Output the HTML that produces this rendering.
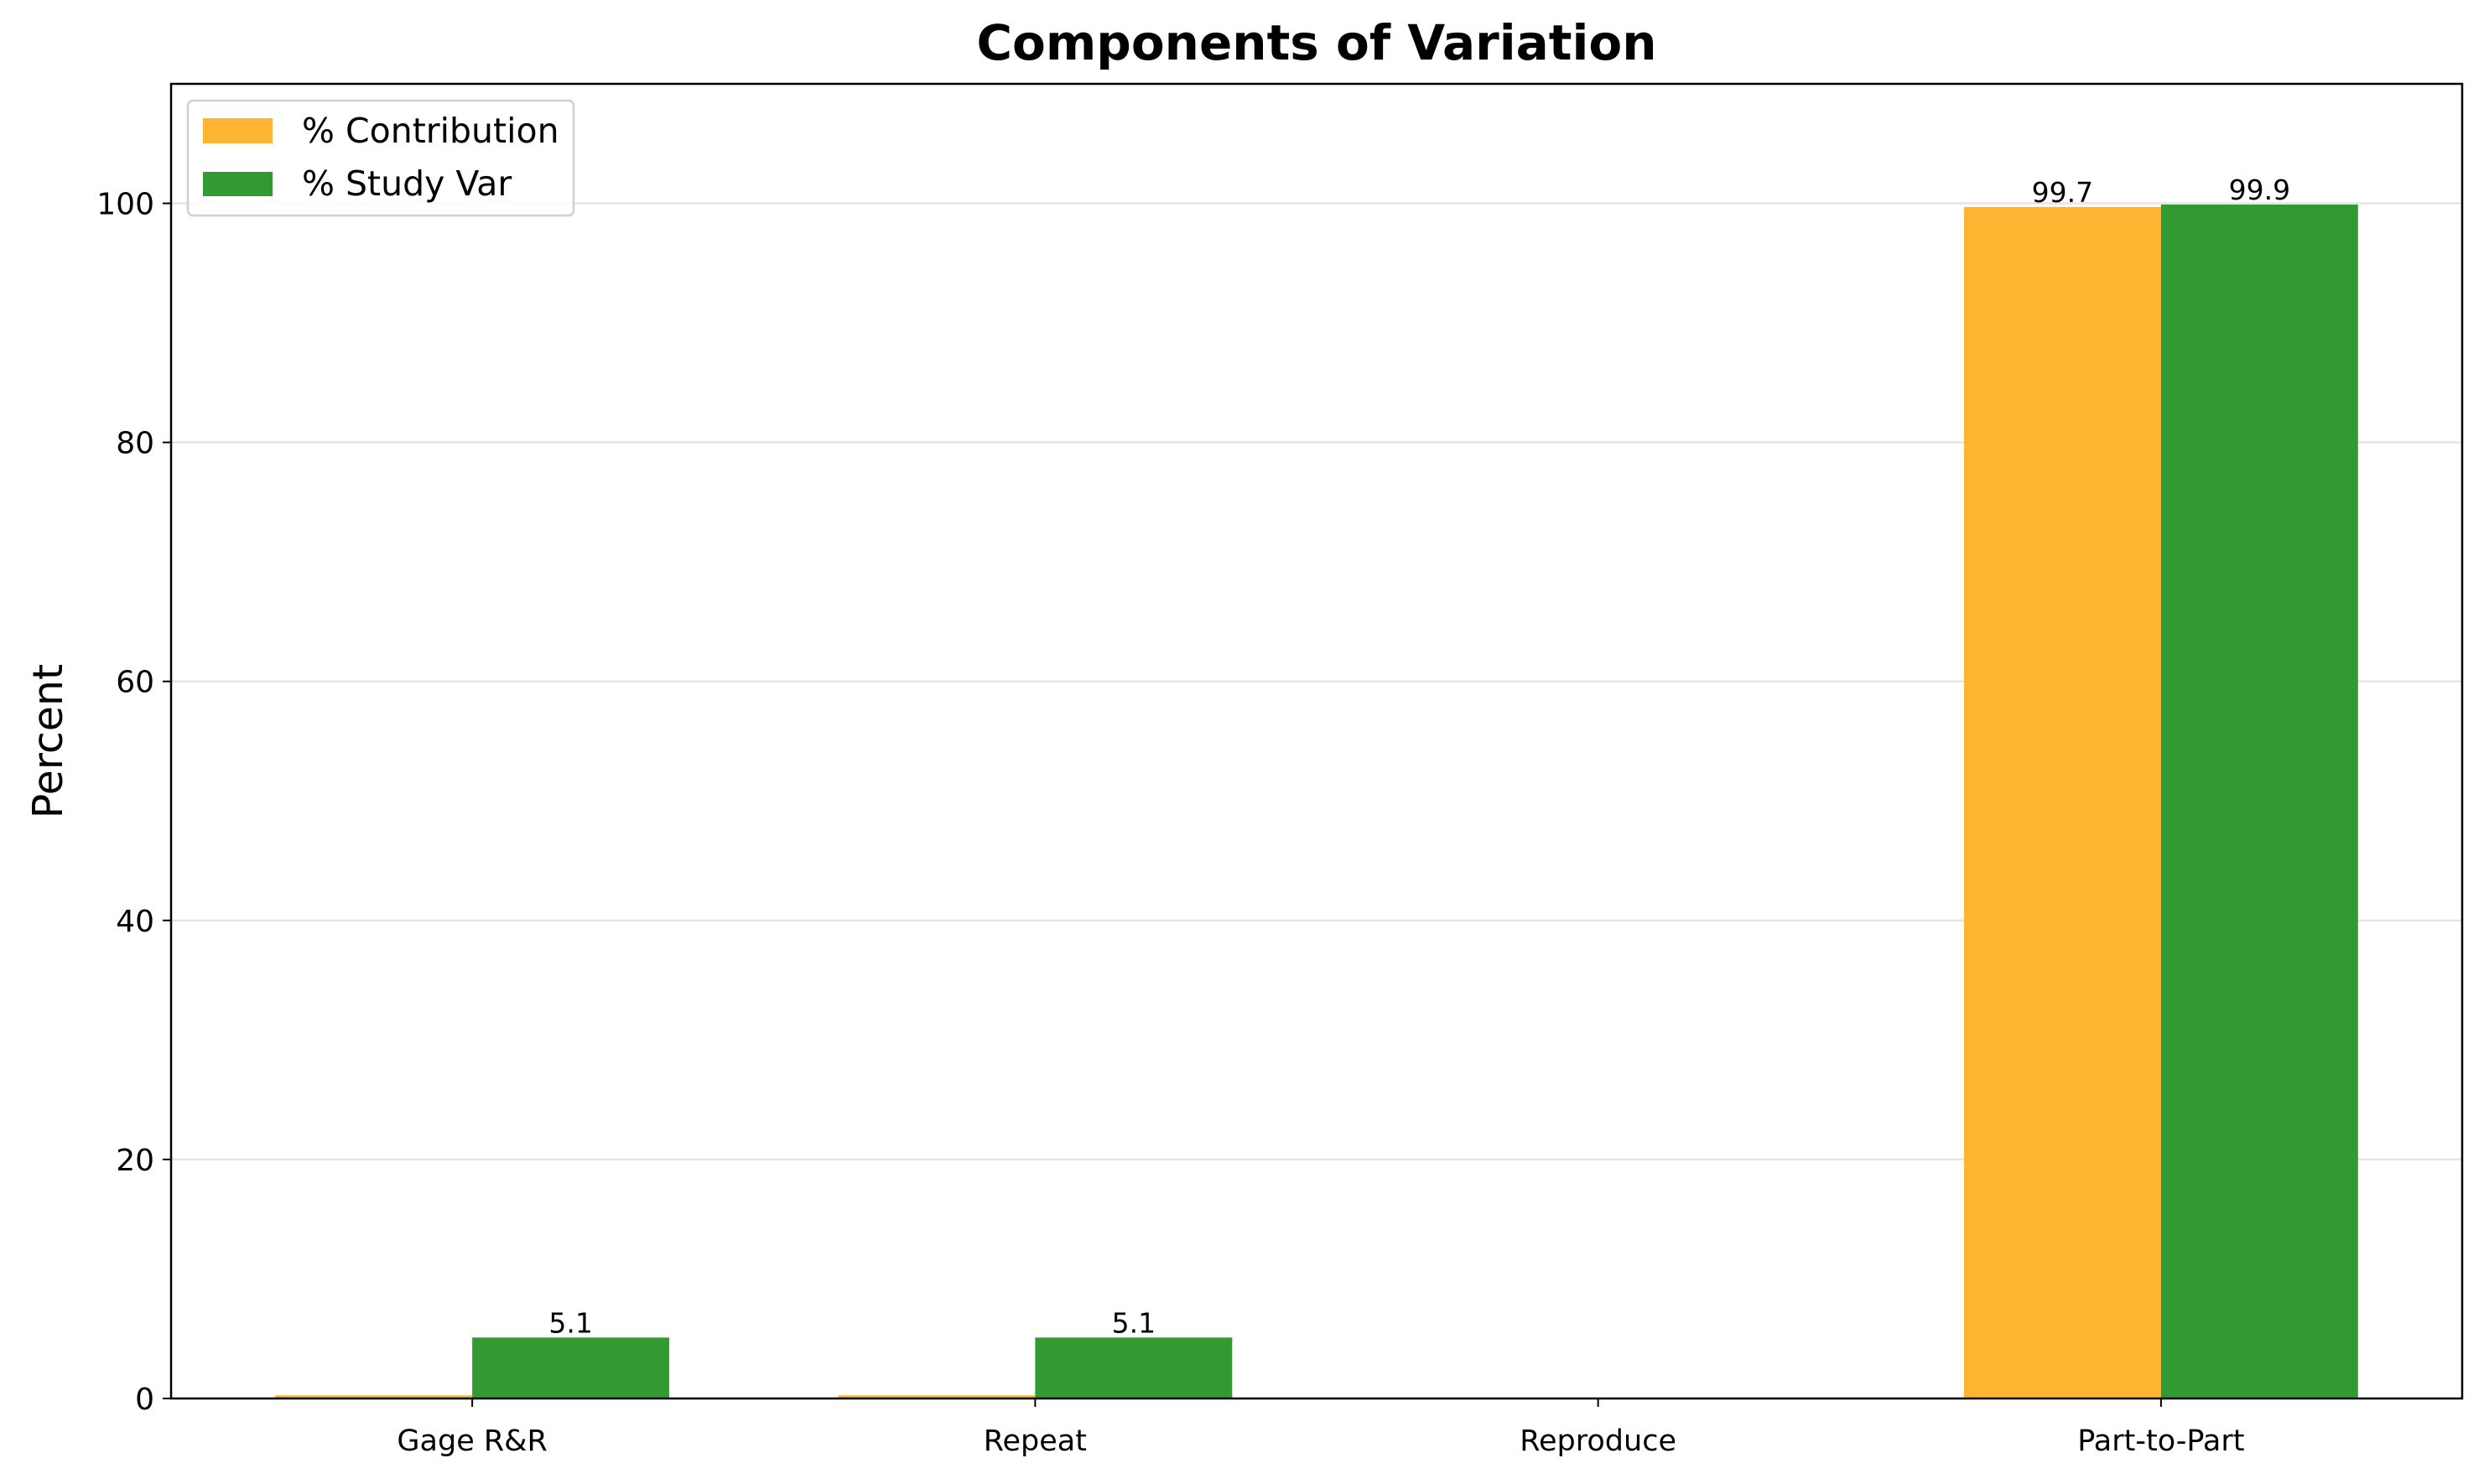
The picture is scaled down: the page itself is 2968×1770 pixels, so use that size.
<!DOCTYPE html>
<html><head><meta charset="utf-8"><style>
html,body{margin:0;padding:0;background:#fff;}
svg{display:block;font-family:"DejaVu Sans","Liberation Sans",sans-serif;}
</style></head><body>
<svg id="chart" width="2968" height="1770" viewBox="0 0 2968 1770">
<text x="1570" y="71" font-size="58" font-weight="bold" text-anchor="middle">Components of Variation</text>
<text transform="translate(74,884) rotate(-90)" font-size="49" text-anchor="middle">Percent</text>
<g id="grid"></g><g id="bars"></g><g id="labels"></g><g id="ticks"></g>
<rect x="204" y="100" width="2732" height="1568" fill="none" stroke="#000" stroke-width="2.5"/>
<g>
<rect x="224" y="120" width="460" height="137" rx="6" fill="#fff" fill-opacity="0.8" stroke="#d0d0d0" stroke-width="2.5"/>
<rect x="242" y="141" width="83" height="30" fill="#fdb532"/>
<text x="360" y="170" font-size="41">% Contribution</text>
<rect x="242" y="205" width="83" height="29" fill="#339933"/>
<text x="360" y="233" font-size="41">% Study Var</text>
</g>
</svg>
<script>
const categories = ["Gage R&R","Repeat","Reproduce","Part-to-Part"];
const contribution = [0.26, 0.26, 0, 99.7];
const studyVar = [5.1, 5.1, 0, 99.9];
const yTicks = [0,20,40,60,80,100];
const NS="http://www.w3.org/2000/svg";
const L=204,R=2936,T=100,B=1668,xmin=-0.535,xmax=3.535,ymax=110,bw=0.35;
const X=v=>L+(v-xmin)/(xmax-xmin)*(R-L);
const Y=v=>B-v/ymax*(B-T);
function mk(tag,attrs,parent){const e=document.createElementNS(NS,tag);for(const k in attrs)e.setAttribute(k,attrs[k]);document.getElementById(parent).appendChild(e);return e;}
yTicks.forEach(t=>{
  const g=mk('line',{x1:L,x2:R,y1:Y(t),y2:Y(t),stroke:'#e5e5e5','stroke-width':2.5},'grid');
  
  
  const tk=mk('line',{x1:L-10,x2:L,y1:Y(t),y2:Y(t),stroke:'#000','stroke-width':2},'ticks');
  
  
  const lb=mk('text',{x:L-20,y:Y(t)+13,'font-size':36,'text-anchor':'end'},'ticks');
  lb.textContent=t;
  
  
});
categories.forEach((c,i)=>{
  const series=[[contribution[i],'#fdb532',i-bw,'contribution'],[studyVar[i],'#339933',i,'study-var']];
  series.forEach(([v,col,x0,nm])=>{
    const r=mk('rect',{x:X(x0),y:Y(v),width:X(x0+bw)-X(x0),height:B-Y(v),fill:col},'bars');
    
    
    if(v>1){
      const t=mk('text',{x:X(x0+bw/2),y:Y(v)-6,'font-size':33,'text-anchor':'middle'},'labels');
      t.textContent=v.toFixed(1);
      
      
    }
  });
  const tk=mk('line',{x1:X(i),x2:X(i),y1:B,y2:B+10,stroke:'#000','stroke-width':2},'ticks');
  
  
  const lb=mk('text',{x:X(i),y:B+62,'font-size':35,'text-anchor':'middle'},'ticks');
  lb.textContent=c;
  
  
});
</script>
</body></html>
